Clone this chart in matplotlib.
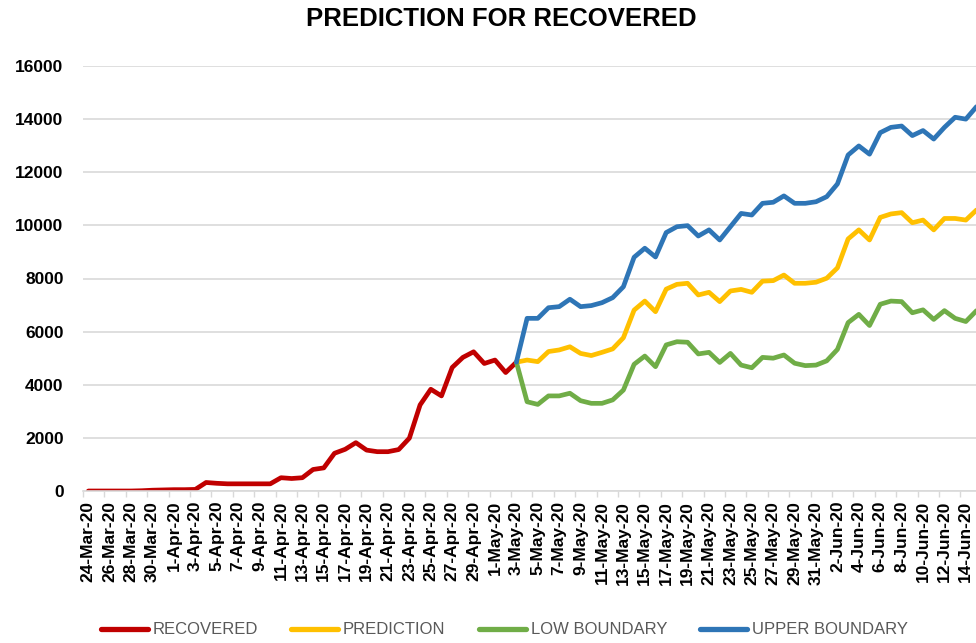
import matplotlib
matplotlib.use("Agg")
import matplotlib.pyplot as plt
import numpy as np
import pandas as pd

# dates 24-Mar-20 .. 15-Jun-20
dates = pd.date_range("2020-03-24", "2020-06-15")
date_labels = [f"{d.day}-{d.strftime('%b-%y')}" for d in dates]

# observed, 24-Mar .. 3-May
recovered = [0, 0, 0, 0, 0, 10, 30, 40, 50, 50,
             60, 320, 290, 270, 270, 270, 270, 270, 500, 470,
             500, 810, 870, 1420, 1570, 1820, 1540, 1480, 1480, 1560,
             1990, 3240, 3830, 3580, 4650, 5030, 5240, 4800, 4930, 4460,
             4850]

# forecast, 3-May .. 15-Jun
prediction = [4850, 4930, 4870, 5250, 5310, 5430, 5180, 5100, 5220, 5350,
              5770, 6810, 7150, 6750, 7600, 7780, 7820, 7380, 7480, 7130,
              7530, 7590, 7480, 7900, 7920, 8130, 7820, 7820, 7860, 8010,
              8400, 9490, 9830, 9450, 10300, 10430, 10480, 10100, 10200, 9830,
              10260, 10260, 10200, 10580]
low_boundary = [4850, 3360, 3260, 3580, 3580, 3680, 3400, 3300, 3300, 3430,
                3800, 4770, 5080, 4680, 5500, 5620, 5600, 5160, 5220, 4840,
                5180, 4740, 4640, 5030, 5000, 5120, 4810, 4720, 4740, 4900,
                5330, 6340, 6650, 6230, 7030, 7150, 7130, 6710, 6820, 6460,
                6790, 6500, 6380, 6790]
upper_boundary = [4850, 6500, 6500, 6900, 6940, 7220, 6940, 6980, 7090, 7280,
                  7690, 8800, 9140, 8810, 9730, 9950, 9990, 9600, 9830, 9450,
                  9950, 10450, 10390, 10830, 10870, 11110, 10830, 10830, 10890, 11080,
                  11560, 12650, 12990, 12680, 13490, 13690, 13740, 13380, 13570, 13250,
                  13690, 14070, 14000, 14470]

x = np.arange(len(dates))
x_obs = x[:len(recovered)]
x_fc = x[len(recovered) - 1:]

fig = plt.figure(figsize=(9.76, 6.43), dpi=100)
ax = fig.add_axes([83 / 976, 1 - 491 / 643, 1 - 83 / 976, (491 - 66) / 643])

line_kw = dict(linewidth=3.4, solid_joinstyle="round", solid_capstyle="round")
ax.plot(x_obs, recovered, color="#C00000", label="RECOVERED", **line_kw)
ax.plot(x_fc, prediction, color="#FFC000", label="PREDICTION", **line_kw)
ax.plot(x_fc, low_boundary, color="#70AD47", label="LOW BOUNDARY", **line_kw)
ax.plot(x_fc, upper_boundary, color="#2E75B6", label="UPPER BOUNDARY", **line_kw)

ax.set_xlim(-0.5, 82.95)
ax.set_ylim(0, 16000)
ax.set_yticks(range(0, 16001, 2000))
ax.grid(axis="y", color="#d9d9d9", linewidth=1.2)
ax.set_axisbelow(True)

ax.set_xticks(x[::2])
ax.set_xticklabels(date_labels[::2], rotation=90)
ax.set_xticks(np.arange(-0.5, 83, 2), minor=True)
ax.tick_params(axis="x", which="major", length=0, pad=7)
ax.tick_params(axis="x", which="minor", length=4, color="#d9d9d9", width=1)
ax.tick_params(axis="y", length=0, pad=14)

for lab in ax.get_xticklabels() + ax.get_yticklabels():
    lab.set_fontfamily("Liberation Sans")
    lab.set_fontweight("bold")
    lab.set_fontsize(12.5)

for s in ["top", "right", "left"]:
    ax.spines[s].set_visible(False)
ax.spines["bottom"].set_color("#d9d9d9")
ax.spines["bottom"].set_linewidth(1.2)

fig.text(0.514, 1 - 19 / 643, "PREDICTION FOR RECOVERED", ha="center", va="center",
         fontsize=18.5, fontweight="bold", family="Liberation Sans")

leg = fig.legend(loc="center", bbox_to_anchor=(0.517, 1 - 630 / 643), ncol=4, frameon=False,
                 handlelength=2.8, handletextpad=0.3, columnspacing=2.0,
                 prop={"family": "Liberation Sans", "size": 12})
for t in leg.get_texts():
    t.set_color("#595959")
for h in leg.get_lines():
    h.set_linewidth(3.8)

fig.savefig("out.png", dpi=100)
